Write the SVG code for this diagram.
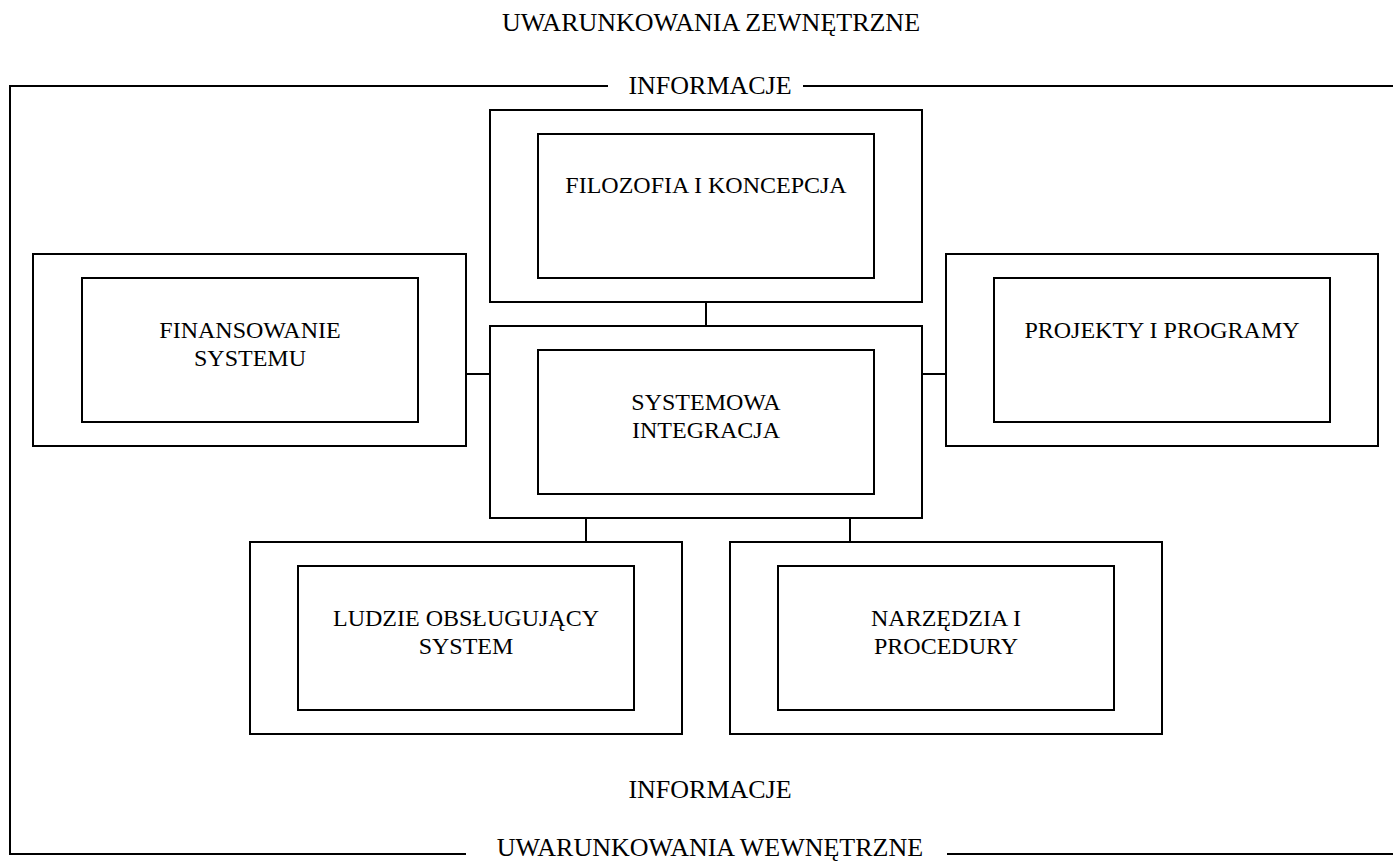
<svg xmlns="http://www.w3.org/2000/svg" width="1393" height="862" viewBox="0 0 1393 862">
<style>
.o{fill:none;stroke:#000;stroke-width:2}
.c{fill:none;stroke:#000;stroke-width:2}
.t{font-family:"Liberation Serif","Times New Roman",serif;font-size:24px;fill:#000;text-anchor:middle}
.L{font-family:"Liberation Serif","Times New Roman",serif;font-size:26px;fill:#000;text-anchor:middle}
</style>
<rect width="1393" height="862" fill="#fff"/>
<g id="frame">
<text class="L" x="711" y="31">UWARUNKOWANIA ZEWNĘTRZNE</text>
<path class="c" d="M608 86H10V854H466M947 854H1393M803 86H1393"/>
<text class="L" x="710" y="94">INFORMACJE</text>
<text class="L" x="710" y="798">INFORMACJE</text>
<text class="L" x="710" y="856">UWARUNKOWANIA WEWNĘTRZNE</text>
</g>
<g id="connectors">
<path class="c" d="M706 302V326M466 374H490M922 374H946M586 518V542M850 518V542"/>
</g>
<g id="filozofia">
<rect class="o" x="490" y="110" width="432" height="192"/>
<rect class="o" x="538" y="134" width="336" height="144"/>
<text class="t" x="706" y="193">FILOZOFIA I KONCEPCJA</text>
</g>
<g id="finansowanie">
<rect class="o" x="33" y="254" width="433" height="192"/>
<rect class="o" x="82" y="278" width="336" height="144"/>
<text class="t" x="250" y="338">FINANSOWANIE</text>
<text class="t" x="250" y="366">SYSTEMU</text>
</g>
<g id="projekty">
<rect class="o" x="946" y="254" width="432" height="192"/>
<rect class="o" x="994" y="278" width="336" height="144"/>
<text class="t" x="1162" y="338">PROJEKTY I PROGRAMY</text>
</g>
<g id="systemowa">
<rect class="o" x="490" y="326" width="432" height="192"/>
<rect class="o" x="538" y="350" width="336" height="144"/>
<text class="t" x="706" y="410">SYSTEMOWA</text>
<text class="t" x="706" y="438">INTEGRACJA</text>
</g>
<g id="ludzie">
<rect class="o" x="250" y="542" width="432" height="192"/>
<rect class="o" x="298" y="566" width="336" height="144"/>
<text class="t" x="466" y="626">LUDZIE OBSŁUGUJĄCY</text>
<text class="t" x="466" y="654">SYSTEM</text>
</g>
<g id="narzedzia">
<rect class="o" x="730" y="542" width="432" height="192"/>
<rect class="o" x="778" y="566" width="336" height="144"/>
<text class="t" x="946" y="626">NARZĘDZIA I</text>
<text class="t" x="946" y="654">PROCEDURY</text>
</g>
</svg>
